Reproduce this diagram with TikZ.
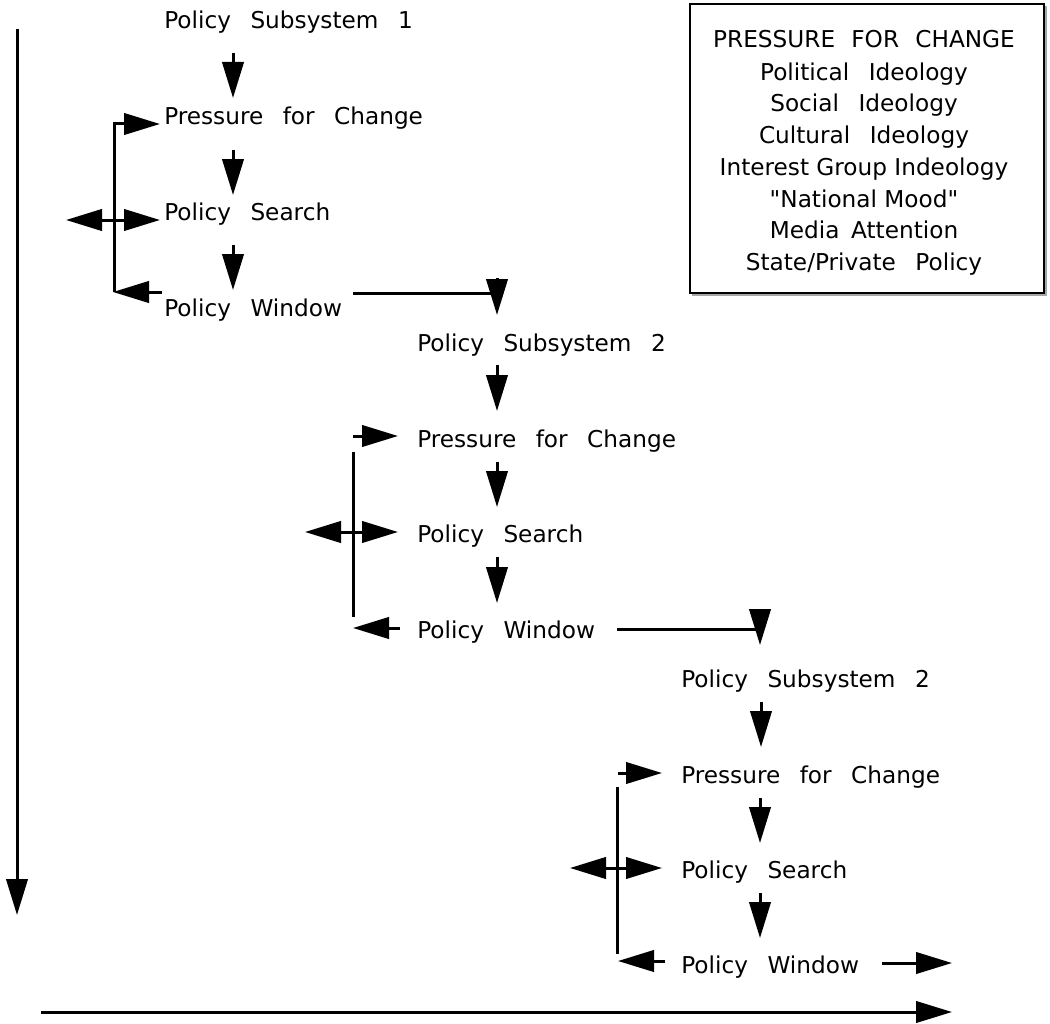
\documentclass[tikz,border=0pt]{standalone}
\usepackage{fontspec}
\setmainfont{DejaVu Sans}[Ligatures=TeXOff]
\usetikzlibrary{arrows.meta,calc}

% interword gaps used by the labels
\newcommand\gapswide{\spaceskip 0.84em plus 0.1em minus 0.05em\relax}
\newcommand\gapscaps{\spaceskip 0.7em plus 0.1em minus 0.05em\relax}
\newcommand\gapsmid{\spaceskip 0.5em plus 0.1em minus 0.05em\relax}
\newcommand\labelsize{\fontsize{17.4pt}{21pt}\selectfont}

\tikzset{
  flow/.style={line width=2.25pt, -{Triangle[length=27pt,width=16pt]}},
  twoway/.style={line width=2.25pt, {Triangle[length=27pt,width=16pt]}-{Triangle[length=27pt,width=16pt]}},
  rule/.style={line width=2.25pt},
  widegaps/.style={font=\labelsize\gapswide},
  capsgaps/.style={font=\labelsize\gapscaps},
  midgaps/.style={font=\labelsize\gapsmid},
  plaingaps/.style={font=\labelsize},
  stage/.style={anchor=base west, inner sep=0pt, widegaps},
  listline/.style={anchor=base, inner sep=0pt},
}

\begin{document}
\begin{tikzpicture}[x=0.75pt, y=-0.75pt]
\useasboundingbox (0,0) rectangle (1050,1024);

% ---------- time axes ----------
\coordinate (timetop) at (17,29);
\coordinate (timeend) at (17,915);
\draw[flow] (timetop) -- (timeend);
\coordinate (spanstart) at (41,1012);
\coordinate (spanend) at (952,1012);
\draw[flow] (spanstart) -- (spanend);

% ---------- subsystem 1 ----------
\node[stage] (sub1) at (164,29)  {Policy Subsystem 1};
\node[stage] (pfc1) at (164,124) {Pressure for Change};
\node[stage] (srch1) at (164,220) {Policy Search};
\node[stage] (win1) at (164,316) {Policy Window};

\coordinate (a1s) at (233,53);  \coordinate (a1e) at (233,98);
\coordinate (a2s) at (233,150); \coordinate (a2e) at (233,195);
\coordinate (a3s) at (233,245); \coordinate (a3e) at (233,290);
\draw[flow] (a1s) -- (a1e);
\draw[flow] (a2s) -- (a2e);
\draw[flow] (a3s) -- (a3e);

\coordinate (fb1low) at (114,292);
\coordinate (fb1in)  at (160,124);
\draw[flow] (fb1low) |- (fb1in);
\coordinate (fb1out) at (162,292);
\coordinate (fb1tip) at (113,292);
\draw[flow] (fb1out) -- (fb1tip);
\coordinate (s1l) at (66,220); \coordinate (s1r) at (160,220);
\draw[twoway] (s1l) -- (s1r);

\coordinate (w1s) at (353,293);
\coordinate (w1c) at (497,293);
\draw[rule] (w1s) -- (w1c);
\draw[flow] ($(w1c)+(0,-15)$) -- ($(w1c)+(0,22)$);

% ---------- subsystem 2 ----------
\node[stage] (sub2) at (417,351) {Policy Subsystem 2};
\node[stage] (pfc2) at (417,447) {Pressure for Change};
\node[stage] (srch2) at (417,542) {Policy Search};
\node[stage] (win2) at (417,638) {Policy Window};

\coordinate (b1s) at (497,365); \coordinate (b1e) at (497,411);
\coordinate (b2s) at (497,462); \coordinate (b2e) at (497,507);
\coordinate (b3s) at (497,557); \coordinate (b3e) at (497,603);
\draw[flow] (b1s) -- (b1e);
\draw[flow] (b2s) -- (b2e);
\draw[flow] (b3s) -- (b3e);

\coordinate (p2s) at (353,436); \coordinate (p2e) at (398,436);
\draw[flow] (p2s) -- (p2e);
\coordinate (v2t) at (353,452); \coordinate (v2b) at (353,617);
\draw[rule] (v2t) -- (v2b);
\coordinate (s2l) at (305,532); \coordinate (s2r) at (398,532);
\draw[twoway] (s2l) -- (s2r);
\coordinate (fb2out) at (400,628); \coordinate (fb2tip) at (353,628);
\draw[flow] (fb2out) -- (fb2tip);

\coordinate (w2s) at (617,629);
\coordinate (w2c) at (760,629);
\draw[rule] (w2s) -- (w2c);
\draw[flow] ($(w2c)+(0,-20)$) -- ($(w2c)+(0,16)$);

% ---------- subsystem 3 ----------
\node[stage] (sub3) at (681,687) {Policy Subsystem 2};
\node[stage] (pfc3) at (681,783) {Pressure for Change};
\node[stage] (srch3) at (681,878) {Policy Search};
\node[stage] (win3) at (681,973) {Policy Window};

\coordinate (c1s) at (761,702); \coordinate (c1e) at (761,747);
\coordinate (c2s) at (760,798); \coordinate (c2e) at (760,843);
\coordinate (c3s) at (760,893); \coordinate (c3e) at (760,938);
\draw[flow] (c1s) -- (c1e);
\draw[flow] (c2s) -- (c2e);
\draw[flow] (c3s) -- (c3e);

\coordinate (p3s) at (618,773); \coordinate (p3e) at (662,773);
\draw[flow] (p3s) -- (p3e);
\coordinate (v3t) at (617,787); \coordinate (v3b) at (617,954);
\draw[rule] (v3t) -- (v3b);
\coordinate (s3l) at (570,868); \coordinate (s3r) at (662,868);
\draw[twoway] (s3l) -- (s3r);
\coordinate (fb3out) at (665,961); \coordinate (fb3tip) at (618,961);
\draw[flow] (fb3out) -- (fb3tip);
\coordinate (w3s) at (882,963); \coordinate (w3e) at (952,963);
\draw[flow] (w3s) -- (w3e);

% ---------- list of pressures ----------
\draw[gray!70, line width=1.5pt] (692,295) -- (1046,295) -- (1046,6);
\draw[line width=1.5pt] (690,4) rectangle (1044,293);
\node[listline, capsgaps]  (l1) at (864,48)  {PRESSURE FOR CHANGE};
\node[listline, widegaps]  (l2) at (864,80)  {Political Ideology};
\node[listline, widegaps]  (l3) at (864,112) {Social Ideology};
\node[listline, widegaps]  (l4) at (864,143) {Cultural Ideology};
\node[listline, plaingaps] (l5) at (864,175) {Interest Group Indeology};
\node[listline, plaingaps] (l6) at (864,207) {"National Mood"};
\node[listline, midgaps]   (l7) at (864,238) {Media Attention};
\node[listline, widegaps]  (l8) at (864,270) {State/Private Policy};
\end{tikzpicture}
\end{document}
